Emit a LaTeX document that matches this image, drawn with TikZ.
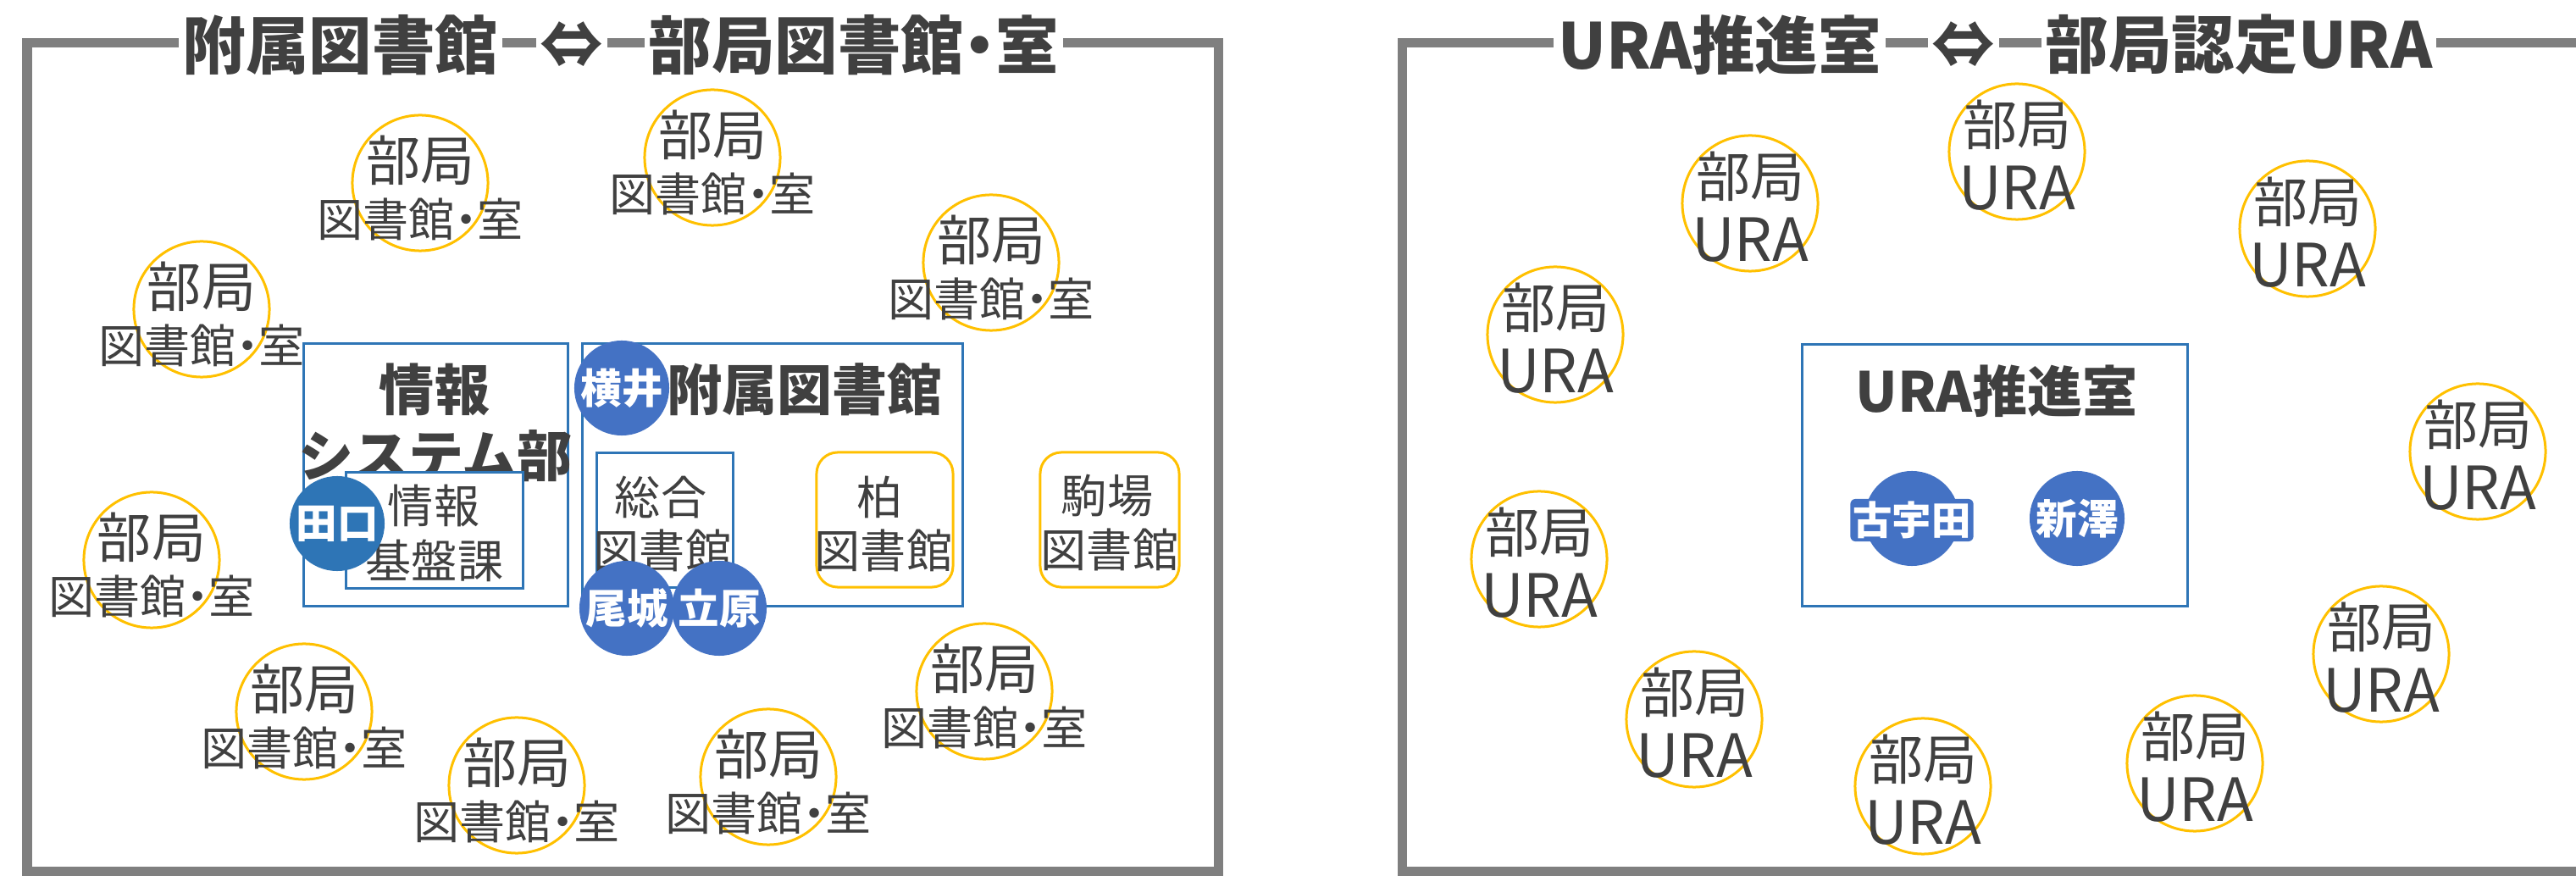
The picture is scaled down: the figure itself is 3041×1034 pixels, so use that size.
\documentclass[tikz,border=0pt]{standalone}
\usepackage{fontspec}
\setmainfont{Noto Sans CJK JP}
\definecolor{txt}{HTML}{404040}
\definecolor{framegray}{HTML}{7F7F7F}
\definecolor{bbox}{HTML}{2E75B6}
\definecolor{pcirc}{HTML}{4472C4}
\definecolor{orng}{HTML}{FFC000}
\newcommand\fsz[1]{\fontsize{#1pt}{#1pt}\selectfont}
\newcommand\mdot{\kern-.25em・\kern-.25em}
\begin{document}
\begin{tikzpicture}[x=0.01cm,y=-0.01cm,
  frameline/.style={draw=framegray, line width=0.11cm},
  ttl/.style={fill=white, inner sep=0.05cm, text=txt, font=\bfseries\fsz{21.2}},
  dept/.style={circle, draw=orng, line width=0.03cm, minimum size=1.6cm, inner sep=0},
  dtxta/.style={text=txt, inner sep=0, font=\fsz{18.2}},
  dtxtb/.style={text=txt, inner sep=0, font=\fsz{15.4}},
  uratxt/.style={text=txt, inner sep=0, font=\fsz{20}},
  bluebox/.style={draw=bbox, line width=0.03cm, fill=white, inner sep=0},
  orbox/.style={draw=orng, line width=0.03cm, rounded corners=0.25cm, fill=white, inner sep=0},
  person/.style={circle, fill=pcirc, minimum size=1.12cm, inner sep=0, text=white, font=\bfseries\fsz{13.8}},
  boxtitle/.style={text=txt, inner sep=0, font=\bfseries\fsz{18.5}},
  lbl/.style={text=txt, inner sep=0, font=\fsz{15.4}}]
\useasboundingbox (0,0) rectangle (3041,1034);
\clip (0,0) rectangle (3041,1034);
% frames
\draw[frameline] (32,51) rectangle (1438,1029);
\draw[frameline] (3100,51) -- (1655,51) -- (1655,1029) -- (3100,1029);
% titles
\node[ttl] (t1) at (402,53) {附属図書館};
\node[ttl] (t2) at (675,53) {⇔};
\node[ttl] (t3) at (1008,53) {部局図書館\mdot 室};
\node[ttl] (t4) at (2030,53) {URA推進室};
\node[ttl] (t5) at (2318,53) {⇔};
\node[ttl] (t6) at (2643,53) {部局認定URA};
% left: department libraries
\foreach \n/\x/\y in {1/496/216, 2/841/186, 3/1170/310, 4/238/365, 5/179/661, 6/359/840, 7/610/927, 8/907/917, 9/1162/816} {
  \node[dept] (L\n) at (\x,\y) {};
  \node[dtxta] (L\n a) at (\x,\y-27) {部局};
  \node[dtxtb] (L\n b) at (\x,\y+43) {図書館\mdot 室};
}
% right: department URA
\foreach \n/\x/\y in {1/2066/240, 2/2381/179, 3/2724/270, 4/1836/395, 5/2925/533, 6/1817/660, 7/2000/849, 8/2270/928, 9/2591/901, 10/2811/772} {
  \node[dept] (R\n) at (\x,\y) {};
  \node[dtxta] (R\n a) at (\x,\y-32) {部局};
  \node[uratxt] (R\n b) at (\x,\y+43) {URA};
}
% boxes
\node[bluebox, minimum width=3.11cm, minimum height=3.09cm] (isys) at (514.5,560.5) {};
\node[boxtitle] (isysa) at (513,460) {情報};
\node[boxtitle] (isysb) at (514,538) {システム部};
\node[bluebox, minimum width=4.48cm, minimum height=3.09cm] (fuz) at (912,560.5) {};
\node[boxtitle] (fuzt) at (950,460) {附属図書館};
\node[bluebox, minimum width=2.08cm, minimum height=1.36cm] (kiban) at (513,626) {};
\node[lbl] (kibana) at (512,597) {情報};
\node[lbl] (kibanb) at (513,662) {基盤課};
\node[bluebox, minimum width=1.6cm, minimum height=1.58cm] (sogo) at (785,614) {};
\node[lbl] (sogoa) at (780,587) {総合};
\node[lbl] (sogob) at (782,650) {図書館};
\node[orbox, minimum width=1.61cm, minimum height=1.59cm] (kashiwa) at (1044.5,613.5) {};
\node[lbl] (kashiwaa) at (1039,587) {柏};
\node[lbl] (kashiwab) at (1043,650) {図書館};
\node[orbox, minimum width=1.64cm, minimum height=1.59cm] (komaba) at (1310,613.5) {};
\node[lbl] (komabaa) at (1307,585) {駒場};
\node[lbl] (komabab) at (1310,649) {図書館};
\node[bluebox, minimum width=4.54cm, minimum height=3.08cm] (urabox) at (2355,561) {};
\node[boxtitle] (urat) at (2357,462) {URA推進室};
% persons
\node[person] (yokoi) at (734,458) {横井};
\node[person, fill=bbox] (taguchi) at (398,618) {田口};
\node[person] (oshiro) at (740,718) {尾城};
\node[person] (tachihara) at (849,718) {立原};
\node[person] (kouda) at (2257,612) {};
\node[fill=pcirc, rounded corners=0.06cm, inner sep=0.03cm, text=white, font=\bfseries\fsz{13.2}] (koudat) at (2257,614) {古宇田};
\node[person] (niizawa) at (2452,612) {新澤};
\end{tikzpicture}
\end{document}
